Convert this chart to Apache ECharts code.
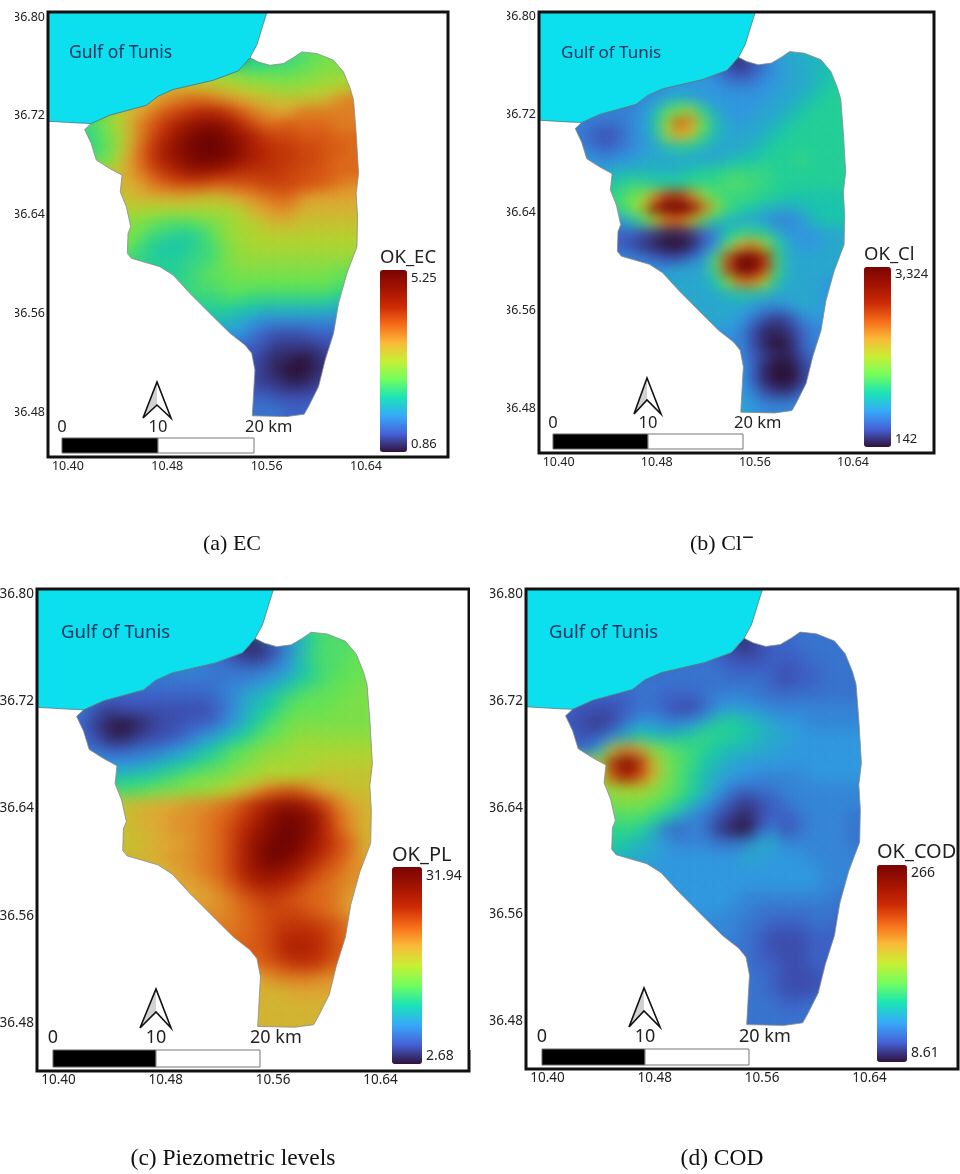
<!DOCTYPE html>
<html><head><meta charset="utf-8">
<style>html,body{margin:0;padding:0;background:#fff}#c{width:960px;height:1174px}</style>
<script src="https://cdn.jsdelivr.net/npm/echarts@6/dist/echarts.min.js"></script>
</head><body><div id="c"></div>
<script>
// Colour ramp levels per cell: 0-9a-z = 0..35 of the panel's range. Rows run 36.77 -> 36.48 in 0.01 steps,
// the first cell of each row sits at longitude 10.<start>.
const latTop = 36.77;
const ecRange = [0.86, 5.25];
const ecStart = [58,54,51,49,47,42,41,42,42,43,44,45,45,45,45,45,45,46,49,50,51,52,53,54,55,55,55,55,55,55];
const ecRows = ["dde","bbbccdeff","hhgfeeeeffggg","kkjjiihhggghhii","kmnoonmlkjjjjjkmn","fghjlnpqrssrpnmllnnnnn","ccehknprtvwwvsqoopooonn","cegjnqsvxzzxvtrqqpppoo","cdgkoruwyzzywtsrrqqppo","ehlortvxyyxvtsrrqqpoo","jlnprsuutsrrrrqqppoo","klnopppooppqqqpponm","jkkkkkjjklmnoomllll","ihhhhhhhhiklmmkkkkk","ffedddefghijkkjjjjj","feccbbceghhiiiiiiii","ecbaabcdfghhhhhhhhh","cbbbccdfgggggggggg","bcdeeffffffffe","cddeeeeeeeeed","ccddcccccccb","bbaa9999998","987666666","75433344","4322223","3211012","3210012","3221123","4433334","555445"];
const clRange = [142, 3324];
const clStart = [58,54,52,49,46,43,41,41,42,42,44,44,45,45,45,45,45,46,48,50,51,52,53,54,55,55,55,55,55,55];
const clRows = ["889","313578899","7643467889aa","7777766677889ab","567898777777889abb","666679dfgb8777889abbb","6655567ahpme987889abbbb","65434679glic98889abbbbb","65456789ba98889abbbbbb","7767788888889aabbbcbbb","8999999abbccccbbbbbb","abccbbbcccddccbbbbbb","cegmrsngdcccbbaaaaa","ceivzzxogcba9889aaa","79chnojda98876679aa","443211246accb877788","432100147elnhb87788","6543357dqzzsc8888","77888dqzyqc8888","888afnnha8887","8889aa988887","88887667887","887532367","76311246","6310146","6421135","7410024","7410024","7632246","876667"];
const plRange = [2.68, 31.94];
const plStart = [58,54,52,49,46,43,41,41,42,43,44,44,45,45,45,45,45,46,48,50,51,52,53,54,55,55,55,55,55,55];
const plRows = ["acd","21358bddd","5422369cddee","6665555679bddee","555555566789bcdeef","5444444445689acdeeeff","65323333333468abdeeefff","54210123344579bdeffffff","43112334578abdefgggggg","54455678abdefgghhhhhh","77789abcdefghhhhiiii","aabbcdeffghhiiijjjjj","ddeffgghikmoppnlkjj","jkkllmmnoqsuwvtqnlk","jkllmmnoprtwyywsomk","jkklmmnoqsvxzywspmk","jjkllmnoqtwyzyvsqok","kklmmnoqtwzywtrpnl","klmnoqtvwvtrpom","lmnprttsrponm","lmnpqrqpoonl","mnopqqqponl","nopqrrrqpn","opqsssrpn","pqstsrp","opqrrqo","lmnnnmm","kkkllll","kkkkkk","kkkkkk"];
const codRange = [8.61, 266];
const codStart = [58,54,52,49,46,43,41,41,42,43,44,44,45,45,45,45,45,46,48,50,51,52,53,54,55,55,55,55,55,55];
const codRows = ["555","313445555","543334445555","555554444344555","555555555554344555","444455444566655555555","44333455433578776666666","433235776679bba98776666","43469ba9abcbba98877777","58inlgedcba9988777777","hsztkfdca98777777777","gpuqkfdb987766667777","ghhgedb975455666666","fffedb9753234566666","dddca86532134456665","bcb9546521046356665","ba98766655688666665","98877777788777666","777777777777766","7777777777766","777766666665","77665555555","6655444554","65433344","5433344","5443344","5543334","5543334","555445","555555"];

const landLon = [10.4135,10.4188,10.4336,10.4632,10.4726,10.4847,10.5170,10.5372,10.5466,10.5533,10.5627,10.5735,10.5816,10.5883,10.6004,10.6139,10.6219,10.6273,10.6300,10.6321,10.6340,10.6321,10.6332,10.6327,10.6246,10.6179,10.6139,10.6071,10.6018,10.5937,10.5902,10.5762,10.5485,10.5498,10.5506,10.5480,10.5426,10.5305,10.5170,10.4982,10.4847,10.4740,10.4511,10.4479,10.4484,10.4506,10.4471,10.4422,10.4436,10.4336,10.4229,10.4188];
const landLat = [36.7089,36.7138,36.7205,36.7286,36.7359,36.7413,36.7488,36.7564,36.7671,36.7636,36.7609,36.7623,36.7671,36.7717,36.7704,36.7650,36.7555,36.7421,36.7327,36.7057,36.6734,36.6572,36.6384,36.6141,36.5926,36.5683,36.5441,36.5225,36.5010,36.4848,36.4786,36.4767,36.4773,36.5010,36.5144,36.5279,36.5346,36.5441,36.5575,36.5764,36.5912,36.5980,36.6047,36.6087,36.6249,36.6303,36.6464,36.6586,36.6720,36.6774,36.6842,36.6976];
const seaLon = [10.38,10.5622,10.5574,10.5541,10.5520,10.5466,10.5372,10.5170,10.4847,10.4726,10.4632,10.4336,10.4188,10.4067,10.38];
const seaLat = [36.81,36.81,36.7946,36.7838,36.7771,36.7671,36.7564,36.7488,36.7413,36.7359,36.7286,36.7205,36.7138,36.7143,36.7159];

const xTicks = [10.40,10.48,10.56,10.64];
const yTicks = [36.48,36.56,36.64,36.72,36.80];
const xExtent = [10.384,10.706], yExtent = [36.444,36.804];
const turbo = ['#30123b','#4662d8','#36aaf9','#1ae4b6','#72fe5e','#c8ef34','#faba39','#f66b19','#cb2a04','#a31301','#7a0403'];

const SANS = '"Noto Sans",sans-serif', SERIF = '"Liberation Serif",serif';
const panels = [
 {rows:ecRows,start:ecStart,range:ecRange,name:'OK_EC',hi:'5.25',lo:'0.86',frame:[48,12,448,457],bar:[380,270,407,452],tcy:258,hicy:278,locy:444,tfs:18.5,lfs:13,afs:12.5,xm:3,ym:3,
  gulf:[69,53,17.5],sb:[62,158,254,438,453,427,245],arrow:[157,382,143,418,171,418,405],sbfs:16.5},
 {rows:clRows,start:clStart,range:clRange,name:'OK_Cl',hi:'3,324',lo:'142',frame:[539,12,934,453],bar:[864,267,891,447],tcy:255,hicy:274,locy:439,tfs:18.5,lfs:13,afs:12.5,xm:3,ym:3,
  gulf:[561,53,17],sb:[553,648,743,434,449,423,734],arrow:[647,378,634,414,661,414,400],sbfs:16.5},
 {rows:plRows,start:plStart,range:plRange,name:'OK_PL',hi:'31.94',lo:'2.68',frame:[37,589,469,1071],bar:[392,867,422,1064],tcy:855,hicy:876,locy:1056,tfs:20,lfs:14,afs:13.5,xm:2,ym:3,
  gulf:[61,633,18.5],sb:[53,156,260,1050,1067,1038,250],arrow:[156,989,140,1028,171,1028,1012],sbfs:18},
 {rows:codRows,start:codStart,range:codRange,name:'OK_COD',hi:'266',lo:'8.61',frame:[526,589,958,1069],bar:[877,865,907,1062],tcy:852,hicy:873,locy:1053,tfs:20,lfs:14,afs:13.5,xm:2,ym:3,
  gulf:[549,633,18.5],sb:[542,645,749,1049,1065,1037,739],arrow:[644,988,629,1027,660,1027,1011],sbfs:18}
];

const PAD = 3;
function cells(p){
  const out=[]; const LV='0123456789abcdefghijklmnopqrstuvwxyz'; const n=p.rows.length;
  for(let r=-PAD;r<n+PAD;r++){
    const k=Math.min(n-1,Math.max(0,r)), row=p.rows[k], lat=latTop-r*0.01;
    const vals=row.split('').map(c=>p.range[0]+LV.indexOf(c)/35*(p.range[1]-p.range[0]));
    const lon0=p.start[k]/100+10;
    vals.forEach((v,i)=>out.push([lon0+i*0.01,lat,v]));
    for(let j=1;j<=PAD;j++){                                   // edge padding, hidden under the coast mask
      out.push([lon0-j*0.01,lat,vals[0]]);
      out.push([lon0+(vals.length-1+j)*0.01,lat,vals[vals.length-1]]);
    }
  }
  return out;
}
// Each cell is laid down as a soft spot and the spots add up, so the surface reads as continuous.
const SIG=0.62, CUT=2.5, SPREAD=1.215, GAIN=1.22, KT=[0,.1,.2,.3,.4,.5,.6,.7,.8,.9,1];
const KA=KT.map(t=>GAIN*Math.max(0,(Math.exp(-t*t*CUT*CUT/2)-Math.exp(-CUT*CUT/2)))/(2*Math.PI*SIG*SIG*(1-Math.exp(-CUT*CUT/2)*(1+CUT*CUT/2))));
function splatItem(params,api){
  const c=api.coord([api.value(0),api.value(1)]), s=api.size([0.01,0.01]), col=api.visual('color');
  return {type:'circle',shape:{cx:c[0],cy:c[1],r:s[0]*SIG*CUT*SPREAD},style:{blend:'lighter',fill:{type:'radial',x:.5,y:.5,r:.5,
    colorStops:KT.map((t,i)=>({offset:t,color:echarts.color.modifyAlpha(col,+KA[i].toFixed(4))}))}}};
}
function poly(lons,lats,api){return lons.map((x,i)=>api.coord([x,lats[i]]));}

const grid=[],xAxis=[],yAxis=[],series=[],visualMap=[],graphic=[];
const txt=(x,y,text,size,extra)=>graphic.push({type:'text',z:100,x,y,style:Object.assign({text,fontSize:size,fontFamily:SANS,fill:'#222',textAlign:'left',verticalAlign:'middle',textBaseline:'middle'},extra||{})});
panels.forEach((p,i)=>{
  const [l,t,r,b]=p.frame;
  grid.push({left:l,top:t,width:r-l,height:b-t,show:false,outerBoundsMode:'none'});
  xAxis.push({type:'value',gridIndex:i,min:xExtent[0],max:xExtent[1],splitLine:{show:false},axisLine:{show:false},axisTick:{show:false},
    axisLabel:{customValues:xTicks,formatter:v=>v.toFixed(2),fontSize:p.afs,fontFamily:SANS,color:'#222',margin:p.xm}});
  yAxis.push({type:'value',gridIndex:i,min:yExtent[0],max:yExtent[1],splitLine:{show:false},axisLine:{show:false},axisTick:{show:false},
    axisLabel:{customValues:yTicks,formatter:v=>v.toFixed(2),fontSize:p.afs,fontFamily:SANS,color:'#222',margin:p.ym}});
  const data=cells(p);
  const common={type:'custom',coordinateSystem:'cartesian2d',xAxisIndex:i,yAxisIndex:i,animation:false,silent:true,clip:true,progressive:0};
  series.push(Object.assign({},common,{z:2,data:[0],renderItem:(pr,api)=>{
    const a=api.coord([xExtent[0],yExtent[1]]), b2=api.coord([xExtent[1],yExtent[0]]);
    return {type:'rect',shape:{x:a[0],y:a[1],width:b2[0]-a[0],height:b2[1]-a[1]},style:{fill:'#000'}};
  }}));
  const idx=series.length;
  series.push(Object.assign({},common,{z:3,data,encode:{x:0,y:1},renderItem:splatItem}));
  series.push(Object.assign({},common,{z:4,data:[0],renderItem:(pr,api)=>{
    const outer=[[xExtent[0],yExtent[1]],[xExtent[0],yExtent[0]],[xExtent[1],yExtent[0]],[xExtent[1],yExtent[1]],[xExtent[0],yExtent[1]]].map(q=>api.coord(q));
    const land=poly(landLon,landLat,api);
    return {type:'polygon',shape:{points:outer.concat(land,[land[0]],[outer[0]])},style:{fill:'#fff',stroke:null}};
  }}));
  series.push(Object.assign({},common,{z:5,data:[0],renderItem:(pr,api)=>({type:'polygon',shape:{points:poly(landLon,landLat,api)},style:{fill:'none',stroke:'#8a8a8a',lineWidth:.8}})}));
  series.push(Object.assign({},common,{z:6,data:[0],renderItem:(pr,api)=>({type:'polygon',shape:{points:poly(seaLon,seaLat,api)},style:{fill:'#0ce0ef',stroke:'#4a6a72',lineWidth:.7}})}));
  visualMap.push({type:'continuous',seriesIndex:[idx],dimension:2,min:p.range[0],max:p.range[1],show:true,calculable:false,hoverLink:false,z:50,
    left:p.bar[0],top:p.bar[1],itemWidth:p.bar[2]-p.bar[0],itemHeight:p.bar[3]-p.bar[1],padding:0,inRange:{color:turbo},text:null});
  graphic.push({type:'rect',z:99,shape:{x:l,y:t,width:r-l,height:b-t},style:{fill:'none',stroke:'#111',lineWidth:3}});
  txt(p.bar[0],p.tcy,p.name,p.tfs);
  txt(p.bar[2]+4,p.hicy,p.hi,p.lfs);
  txt(p.bar[2]+4,p.locy,p.lo,p.lfs);
  txt(p.gulf[0],p.gulf[1],'Gulf of Tunis',p.gulf[2],{fill:'#16305e'});
  const s=p.sb;
  graphic.push({type:'rect',z:100,shape:{x:s[0],y:s[3],width:s[1]-s[0],height:s[4]-s[3]},style:{fill:'#000',stroke:'#666',lineWidth:1}});
  graphic.push({type:'rect',z:100,shape:{x:s[1],y:s[3],width:s[2]-s[1],height:s[4]-s[3]},style:{fill:'#fff',stroke:'#777',lineWidth:1}});
  txt(s[0],s[5],'0',p.sbfs,{textAlign:'center'});
  txt(s[1],s[5],'10',p.sbfs,{textAlign:'center'});
  txt(s[6],s[5],'20 km',p.sbfs);
  const a=p.arrow;
  graphic.push({type:'polygon',z:100,shape:{points:[[a[0],a[1]],[a[2],a[3]],[a[0],a[6]]]},style:{fill:'#d2d2d2'}});
  graphic.push({type:'polyline',z:101,shape:{points:[[a[2],a[3]],[a[0],a[1]],[a[4],a[5]],[a[0],a[6]],[a[2],a[3]]]},style:{fill:'none',stroke:'#111',lineWidth:1.6}});
});
// the source figure crops its latitude labels on the left
[[0,0,15,470],[470,0,37,470],[470,580,20,470]].forEach(q=>graphic.push({type:'rect',z:120,shape:{x:q[0],y:q[1],width:q[2],height:q[3]},style:{fill:'#fff'}}));
const cap=(cx,cy,text,size,extra)=>graphic.push({type:'text',z:100,x:cx,y:cy,style:Object.assign({text,fontSize:size,fontFamily:SERIF,fill:'#111',textAlign:'center',verticalAlign:'middle',textBaseline:'middle'},extra||{})});
cap(232,544,'(a) EC',22);
cap(722,544,'{n|(b) Cl}{s|−}',22,{rich:{n:{fontSize:22,fontFamily:SERIF,fill:'#111'},s:{fontSize:21,fontFamily:SERIF,fontWeight:'bold',fill:'#111',verticalAlign:'top',padding:[0,0,10,0]}}});
cap(233,1159,'(c) Piezometric levels',23.5);
cap(722,1159,'(d) COD',23.5);

const chart=echarts.init(document.getElementById('c'),null,{renderer:'canvas'});
chart.setOption({animation:false,backgroundColor:'#fff',grid,xAxis,yAxis,visualMap,series,graphic});
</script></body></html>
